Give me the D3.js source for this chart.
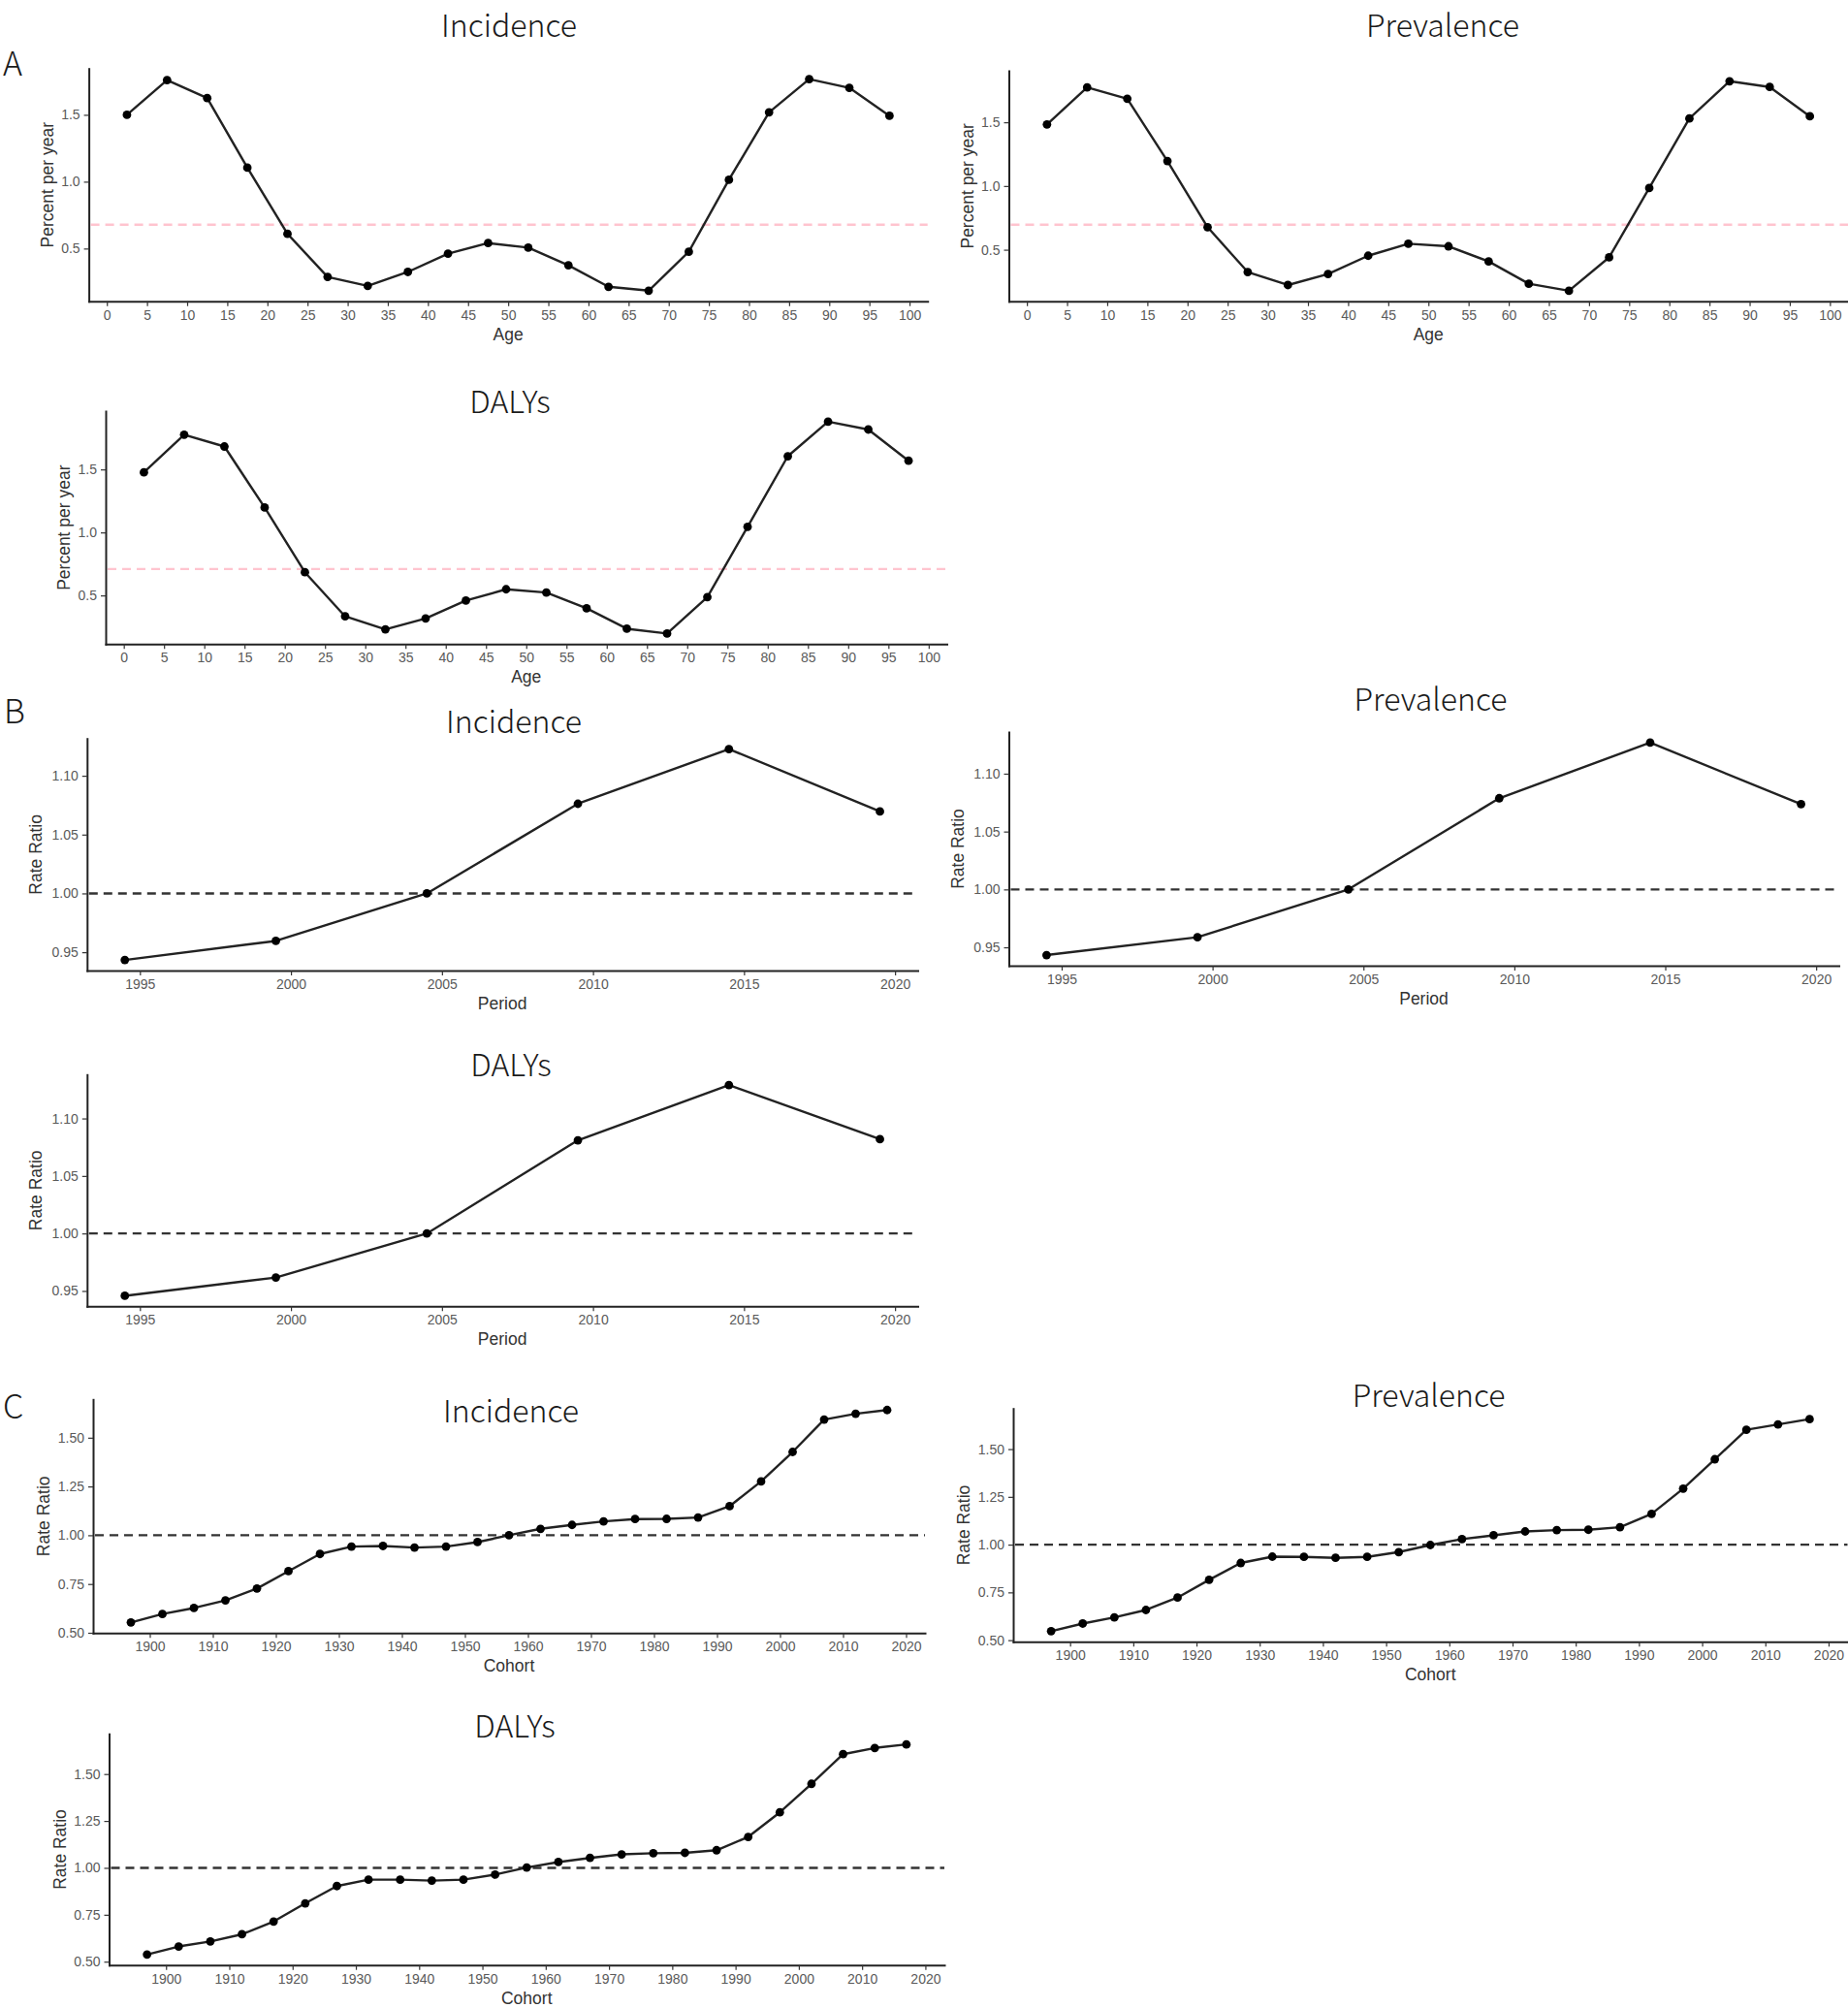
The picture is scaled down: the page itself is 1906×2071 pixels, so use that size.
<!DOCTYPE html>
<html>
<head>
<meta charset="utf-8">
<script src="https://cdn.jsdelivr.net/npm/d3@7"></script>
<style>
  html, body { margin: 0; padding: 0; background: #fff; }
  svg { display: block; }
  .axis .tick text { font-family: "Liberation Sans", Arial, sans-serif; font-size: 14px; fill: #5a5a5a; }
  .axis path { stroke: #222; stroke-width: 2; }
  .axis .tick line { stroke: #333; stroke-width: 1.2; }
  .axis-title { font-family: "Liberation Sans", Arial, sans-serif; font-size: 17.5px; fill: #333; }
  .panel-title, .panel-tag { font-family: "Noto Sans CJK SC", "Noto Sans", sans-serif; font-weight: 300; fill: #1a1a1a; }
</style>
</head>
<body>
<svg id="chart" width="1906" height="2071"></svg>
<script>
// ---- data ----
const ageGroups = [ 2.5, 7.5, 12.5, 17.5, 22.5, 27.5, 32.5, 37.5, 42.5, 47.5, 52.5, 57.5, 62.5, 67.5, 72.5, 77.5, 82.5, 87.5, 92.5, 97.5 ];
const ageTicks = [ 0, 5, 10, 15, 20, 25, 30, 35, 40, 45, 50, 55, 60, 65, 70, 75, 80, 85, 90, 95, 100 ];
const ageYTicks = [ 0.5, 1.0, 1.5 ];

const ageIncidence = [ 1.50, 1.76, 1.625, 1.105, 0.61, 0.288, 0.221, 0.325, 0.462, 0.541, 0.507, 0.375, 0.214, 0.185, 0.476, 1.014, 1.519, 1.767, 1.702, 1.493 ];
const agePrevalence = [ 1.483, 1.774, 1.685, 1.196, 0.677, 0.325, 0.223, 0.310, 0.453, 0.547, 0.527, 0.408, 0.233, 0.178, 0.440, 0.984, 1.530, 1.822, 1.777, 1.547 ];
const ageDalys = [ 1.477, 1.776, 1.682, 1.198, 0.684, 0.334, 0.231, 0.318, 0.459, 0.549, 0.523, 0.398, 0.236, 0.198, 0.487, 1.045, 1.605, 1.879, 1.817, 1.569 ];
const ageReference = [ 0.678, 0.697, 0.710 ];

const periods = [ 1994.5, 1999.5, 2004.5, 2009.5, 2014.5, 2019.5 ];
const periodTicks = [ 1995, 2000, 2005, 2010, 2015, 2020 ];
const periodYTicks = [ 0.95, 1.00, 1.05, 1.10 ];

const periodIncidence = [ 0.9434, 0.9596, 1.000, 1.0762, 1.1227, 1.0697 ];
const periodPrevalence = [ 0.9433, 0.9587, 1.000, 1.0788, 1.1268, 1.0737 ];
const periodDalys = [ 0.9458, 0.9617, 1.000, 1.081, 1.129, 1.082 ];

const cohorts = [ 1897, 1902, 1907, 1912, 1917, 1922, 1927, 1932, 1937, 1942, 1947, 1952, 1957, 1962, 1967, 1972, 1977, 1982, 1987, 1992, 1997, 2002, 2007, 2012, 2017 ];
const cohortTicks = [ 1900, 1910, 1920, 1930, 1940, 1950, 1960, 1970, 1980, 1990, 2000, 2010, 2020 ];
const cohortYTicks = [ 0.50, 0.75, 1.00, 1.25, 1.50 ];

const cohortIncidence = [ 0.553, 0.596, 0.627, 0.666, 0.727, 0.816, 0.904, 0.942, 0.945, 0.937, 0.942, 0.965, 1.000, 1.033, 1.053, 1.071, 1.083, 1.084, 1.091, 1.149, 1.276, 1.427, 1.593, 1.623, 1.642 ];
const cohortPrevalence = [ 0.547, 0.587, 0.619, 0.658, 0.723, 0.816, 0.904, 0.937, 0.936, 0.931, 0.936, 0.961, 0.998, 1.029, 1.049, 1.069, 1.076, 1.078, 1.091, 1.161, 1.293, 1.447, 1.601, 1.629, 1.657 ];
const cohortDalys = [ 0.538, 0.581, 0.608, 0.646, 0.714, 0.811, 0.903, 0.937, 0.937, 0.932, 0.937, 0.964, 1.002, 1.031, 1.053, 1.072, 1.078, 1.080, 1.094, 1.165, 1.296, 1.448, 1.606, 1.639, 1.658 ];
const rateRatioReference = 1;

// ---- layout ----
const panels = [
  { title: "Incidence", xs: ageGroups, ys: ageIncidence, ref: ageReference[0], refColor: "#ffc4cf",
    xTicks: ageTicks, yTicks: ageYTicks, yFmt: ".1f", xTitle: "Age", yTitle: "Percent per year",
    box: { left: 91.6, right: 956.7, top: 70.7, bottom: 310.7 }, titleAt: [ 525, 38 ], yTitleOff: 43 },
  { title: "Prevalence", xs: ageGroups, ys: agePrevalence, ref: ageReference[1], refColor: "#ffc4cf",
    xTicks: ageTicks, yTicks: ageYTicks, yFmt: ".1f", xTitle: "Age", yTitle: "Percent per year",
    box: { left: 1040.5, right: 1906, top: 73, bottom: 310.7 }, titleAt: [ 1488, 38 ], yTitleOff: 43 },
  { title: "DALYs", xs: ageGroups, ys: ageDalys, ref: ageReference[2], refColor: "#ffc4cf",
    xTicks: ageTicks, yTicks: ageYTicks, yFmt: ".1f", xTitle: "Age", yTitle: "Percent per year",
    box: { left: 109, right: 976.5, top: 424, bottom: 664.3 }, titleAt: [ 526, 425.7 ], yTitleOff: 43 },

  { title: "Incidence", xs: periods, ys: periodIncidence, ref: rateRatioReference, refColor: "#333",
    xTicks: periodTicks, yTicks: periodYTicks, yFmt: ".2f", xTitle: "Period", yTitle: "Rate Ratio",
    box: { left: 89.8, right: 946.5, top: 761.7, bottom: 1001 }, titleAt: [ 530, 755.7 ], yTitleOff: 53 },
  { title: "Prevalence", xs: periods, ys: periodPrevalence, ref: rateRatioReference, refColor: "#333",
    xTicks: periodTicks, yTicks: periodYTicks, yFmt: ".2f", xTitle: "Period", yTitle: "Rate Ratio",
    box: { left: 1040.5, right: 1896.5, top: 755, bottom: 996 }, titleAt: [ 1475.5, 733.3 ], yTitleOff: 53 },
  { title: "DALYs", xs: periods, ys: periodDalys, ref: rateRatioReference, refColor: "#333",
    xTicks: periodTicks, yTicks: periodYTicks, yFmt: ".2f", xTitle: "Period", yTitle: "Rate Ratio",
    box: { left: 89.8, right: 946.5, top: 1108.3, bottom: 1347.3 }, titleAt: [ 527, 1110 ], yTitleOff: 53 },

  { title: "Incidence", xs: cohorts, ys: cohortIncidence, ref: rateRatioReference, refColor: "#333",
    xTicks: cohortTicks, yTicks: cohortYTicks, yFmt: ".2f", xTitle: "Cohort", yTitle: "Rate Ratio",
    box: { left: 96, right: 954, top: 1443.3, bottom: 1684.3 }, titleAt: [ 527, 1466.7 ], yTitleOff: 51 },
  { title: "Prevalence", xs: cohorts, ys: cohortPrevalence, ref: rateRatioReference, refColor: "#333",
    xTicks: cohortTicks, yTicks: cohortYTicks, yFmt: ".2f", xTitle: "Cohort", yTitle: "Rate Ratio",
    box: { left: 1045, right: 1905.5, top: 1452.7, bottom: 1693.3 }, titleAt: [ 1473.6, 1450.7 ], yTitleOff: 51 },
  { title: "DALYs", xs: cohorts, ys: cohortDalys, ref: rateRatioReference, refColor: "#333",
    xTicks: cohortTicks, yTicks: cohortYTicks, yFmt: ".2f", xTitle: "Cohort", yTitle: "Rate Ratio",
    box: { left: 112.5, right: 974, top: 1788.3, bottom: 2026.7 }, titleAt: [ 531, 1791.7 ], yTitleOff: 51 },
];

const tags = [ [ "A", 3, 78 ], [ "B", 4, 746 ], [ "C", 3, 1463 ] ];

const svg = d3.select( "#chart" );

// ggplot style 5% expansion of the data range
const expand = ( ext ) => {
  const pad = ( ext[1] - ext[0] ) * 0.05;
  return [ ext[0] - pad, ext[1] + pad ];
};

const drawPanel = ( p ) => {
  const { left, right, top, bottom } = p.box;
  const g = svg.append( "g" );

  const x = d3.scaleLinear().domain( expand( d3.extent( p.xs ) ) ).range( [ left, right ] );
  const y = d3.scaleLinear().domain( expand( d3.extent( p.ys.concat( [ p.ref ] ) ) ) ).range( [ bottom, top ] );

  g.append( "g" )
    .attr( "class", "axis" )
    .attr( "transform", `translate(0,${bottom})` )
    .call( d3.axisBottom( x ).tickValues( p.xTicks ).tickFormat( d3.format( "d" ) )
      .tickSize( 5 ).tickSizeOuter( 0 ).tickPadding( 4 ) );

  g.append( "g" )
    .attr( "class", "axis" )
    .attr( "transform", `translate(${left},0)` )
    .call( d3.axisLeft( y ).tickValues( p.yTicks ).tickFormat( d3.format( p.yFmt ) )
      .tickSize( 5 ).tickSizeOuter( 0 ).tickPadding( 4 ) );

  g.selectAll( ".axis .domain" ).attr( "stroke-linecap", "square" );

  // reference line
  g.append( "line" )
    .attr( "x1", left + 2 )
    .attr( "x2", right )
    .attr( "y1", y( p.ref ) )
    .attr( "y2", y( p.ref ) )
    .attr( "stroke", p.refColor )
    .attr( "stroke-width", 2.4 )
    .attr( "stroke-dasharray", "9,6" );

  const pts = p.xs.map( ( d, i ) => [ d, p.ys[i] ] );

  g.append( "path" )
    .datum( pts )
    .attr( "fill", "none" )
    .attr( "stroke", "#222" )
    .attr( "stroke-width", 2.4 )
    .attr( "stroke-linejoin", "round" )
    .attr( "d", d3.line().x( d => x( d[0] ) ).y( d => y( d[1] ) ) );

  g.selectAll( "circle" )
    .data( pts )
    .enter()
    .append( "circle" )
    .attr( "cx", d => x( d[0] ) )
    .attr( "cy", d => y( d[1] ) )
    .attr( "r", 4.4 )
    .attr( "fill", "#000" );

  g.append( "text" )
    .attr( "class", "axis-title" )
    .attr( "x", ( left + right ) / 2 )
    .attr( "y", bottom + 40 )
    .attr( "text-anchor", "middle" )
    .text( p.xTitle );

  g.append( "text" )
    .attr( "class", "axis-title" )
    .attr( "transform", `translate(${left - p.yTitleOff},${( top + bottom ) / 2}) rotate(-90)` )
    .attr( "text-anchor", "middle" )
    .attr( "dy", "0.35em" )
    .text( p.yTitle );

  g.append( "text" )
    .attr( "class", "panel-title" )
    .attr( "x", p.titleAt[0] )
    .attr( "y", p.titleAt[1] )
    .attr( "text-anchor", "middle" )
    .style( "font-size", "32px" )
    .text( p.title );
};

panels.forEach( drawPanel );

svg.selectAll( ".panel-tag" )
  .data( tags )
  .enter()
  .append( "text" )
  .attr( "class", "panel-tag" )
  .attr( "x", d => d[1] )
  .attr( "y", d => d[2] )
  .style( "font-size", "34px" )
  .text( d => d[0] );
</script>
</body>
</html>
